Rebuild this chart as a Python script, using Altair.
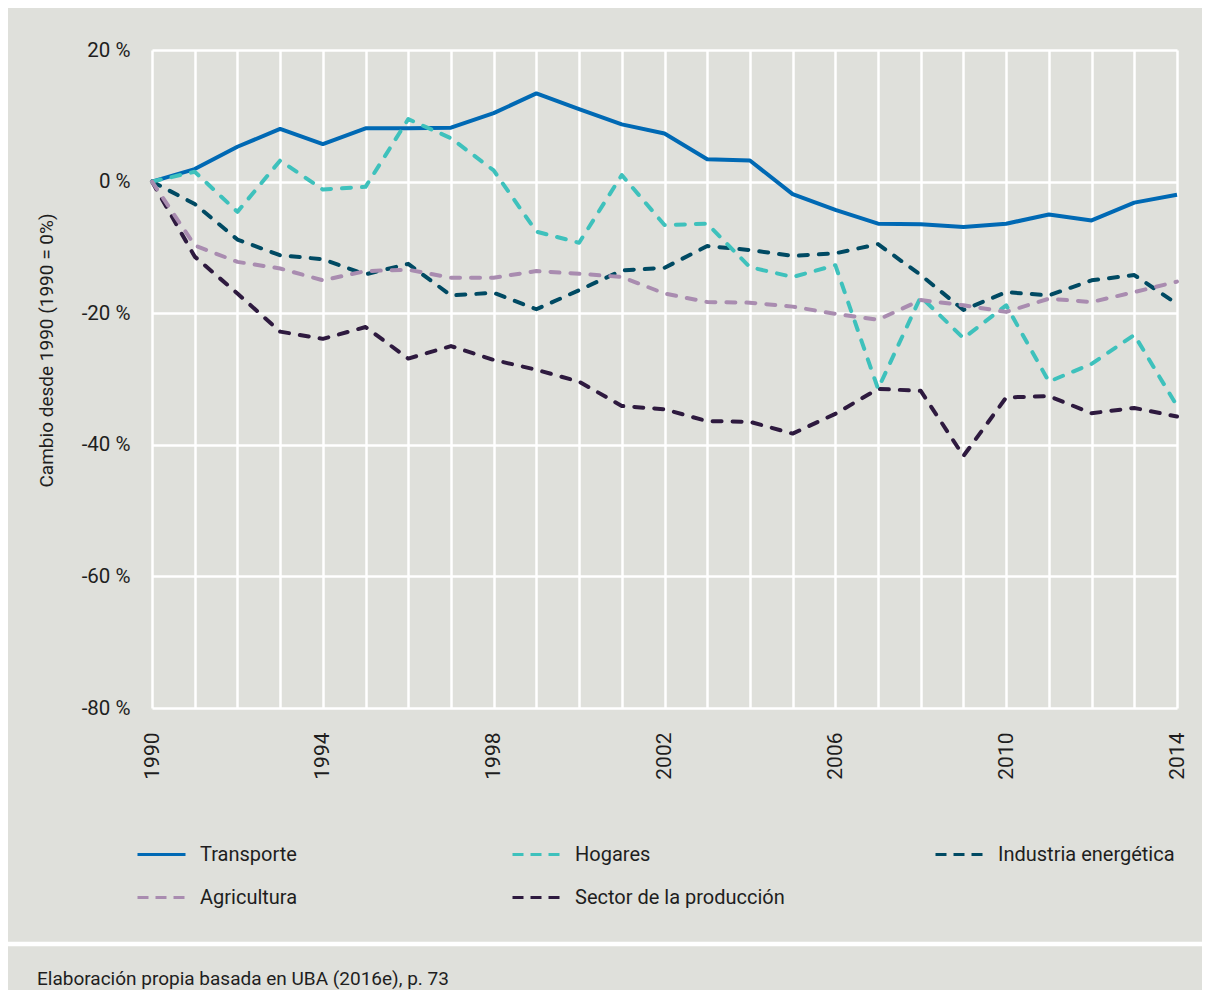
import altair as alt
import pandas as pd

years = list(range(1990, 2015))
transporte = [0, 1.9, 5.3, 8.0, 5.7, 8.1, 8.1, 8.2, 10.4, 13.4, 11.0, 8.7, 7.3, 3.4, 3.2, -1.9, -4.3, -6.4, -6.5, -6.9, -6.4, -5.0, -5.9, -3.2, -2.0]
hogares = [0, 1.5, -4.6, 3.2, -1.2, -0.8, 9.5, 6.6, 1.7, -7.6, -9.3, 1.0, -6.6, -6.4, -13.0, -14.5, -12.7, -31.5, -17.5, -23.8, -18.8, -30.4, -27.7, -23.3, -34.1]
industria = [0, -3.4, -8.8, -11.2, -11.8, -14.1, -12.5, -17.3, -16.9, -19.4, -16.5, -13.5, -13.1, -9.8, -10.4, -11.3, -10.9, -9.5, -14.2, -19.5, -16.8, -17.3, -15.0, -14.2, -18.6]
agricultura = [0, -9.7, -12.2, -13.2, -15.0, -13.6, -13.4, -14.6, -14.6, -13.6, -14.0, -14.5, -17.0, -18.3, -18.4, -19.0, -20.1, -21.0, -18.0, -18.8, -19.8, -17.8, -18.3, -16.8, -15.2]
sector = [0, -11.4, -17.0, -22.8, -23.9, -22.1, -26.9, -25.0, -27.1, -28.6, -30.4, -34.1, -34.6, -36.4, -36.5, -38.3, -35.3, -31.5, -31.8, -41.7, -32.8, -32.6, -35.2, -34.4, -35.7]

series_names = ["Transporte", "Hogares", "Industria energética", "Agricultura", "Sector de la producción"]
series_values = [transporte, hogares, industria, agricultura, sector]
series_colors = ["#0069b4", "#3ec1bc", "#004a63", "#a98cb0", "#2e1a3f"]

y_ticks = [-80, -60, -40, -20, 0, 20]
y_title = "Cambio desde 1990 (1990 = 0%)"
footer = "Elaboración propia basada en UBA (2016e), p. 73"

rows = []
for name, vals in zip(series_names, series_values):
    for yr, v in zip(years, vals):
        rows.append({"year": yr, "value": v, "serie": name})
df = pd.DataFrame(rows)

FONT = "Roboto"
TXT = "#1e1e1e"
BG = "#dfe0db"

W, H = 1025, 658
OX, OY = 152, 50  # plot origin on page
TOTAL_W, TOTAL_H = 1194, 982

x_enc = alt.X(
    "year:Q",
    scale=alt.Scale(domain=[1990, 2014], nice=False, zero=False),
    axis=alt.Axis(
        values=years, format="d",
        labelExpr="datum.value % 4 == 2 ? datum.label : ''",
        labelAngle=270, labelPadding=24, labelOverlap=False,
        labelFontSize=21, labelFont=FONT, labelColor=TXT,
        ticks=False, domain=False, grid=True, title=None,
    ),
)
y_enc = alt.Y(
    "value:Q",
    scale=alt.Scale(domain=[-80, 20], nice=False, zero=False),
    axis=alt.Axis(
        values=y_ticks, labelExpr="datum.value + ' %'",
        labelPadding=22, labelFontSize=20.5, labelFont=FONT, labelColor=TXT,
        ticks=False, domain=False, grid=True,
        title=y_title, titleFont=FONT, titleFontSize=19, titleFontWeight="normal",
        titleColor=TXT, titleAngle=270, titleX=46 - OX, titleY=350 - OY,
        titleAlign="center", titleBaseline="middle",
    ),
)

legend_pos = [(137, 853), (512, 853), (935, 853), (137, 896), (512, 896)]
dashes = [None, [9, 11], [9, 11], [9, 11], [9, 11]]
sym_dashes = [None, [11, 7], [11, 7], [11, 7], [11, 7]]
draw_order = [0, 4, 2, 1, 3]

layers = []
for i in draw_order:
    name = series_names[i]
    lx, ly = legend_pos[i]
    leg_kwargs = dict(
        orient="none", legendX=lx - OX - 1, legendY=ly - OY - 24, title=None,
        symbolType="stroke", symbolSize=2304, symbolStrokeWidth=3,
        labelFontSize=20, labelFont=FONT, labelColor=TXT, labelOffset=13,
        labelLimit=400,
    )
    if sym_dashes[i] is not None:
        leg_kwargs["symbolDash"] = sym_dashes[i]
    mark_kwargs = dict(strokeWidth=4, strokeJoin="round")
    if dashes[i] is not None:
        mark_kwargs["strokeDash"] = dashes[i]
        mark_kwargs["strokeCap"] = "round"
    layer = (
        alt.Chart(df)
        .transform_filter(alt.datum.serie == name)
        .mark_line(**mark_kwargs)
        .encode(
            x=x_enc,
            y=y_enc,
            color=alt.Color(
                "serie:N",
                scale=alt.Scale(domain=[name], range=[series_colors[i]]),
                legend=alt.Legend(**leg_kwargs),
            ),
        )
    )
    layers.append(layer)

sep = alt.Chart(pd.DataFrame({"k": [0]})).mark_rule(color="white", strokeWidth=4.5).encode(
    x=alt.value(-200), x2=alt.value(1300), y=alt.value(944 - OY)
)
foot = alt.Chart(pd.DataFrame({"t": [footer]})).mark_text(
    align="left", baseline="alphabetic", fontSize=19, font=FONT, color=TXT
).encode(x=alt.value(37 - OX), y=alt.value(985 - OY), text="t:N")

chart = (
    alt.layer(*layers, sep, foot)
    .resolve_scale(color="independent")
    .properties(
        width=W, height=H,
        autosize=alt.AutoSizeParams(type="none"),
        padding={"left": OX - 8, "top": OY - 8,
                 "right": TOTAL_W - (OX - 8) - W, "bottom": TOTAL_H - (OY - 8) - H},
        background=BG,
    )
    .configure_view(stroke=None)
    .configure_axis(gridColor="white", gridWidth=2.5, gridOpacity=1)
)

chart.save("out.html", embed_options={"renderer": "svg", "actions": False})
